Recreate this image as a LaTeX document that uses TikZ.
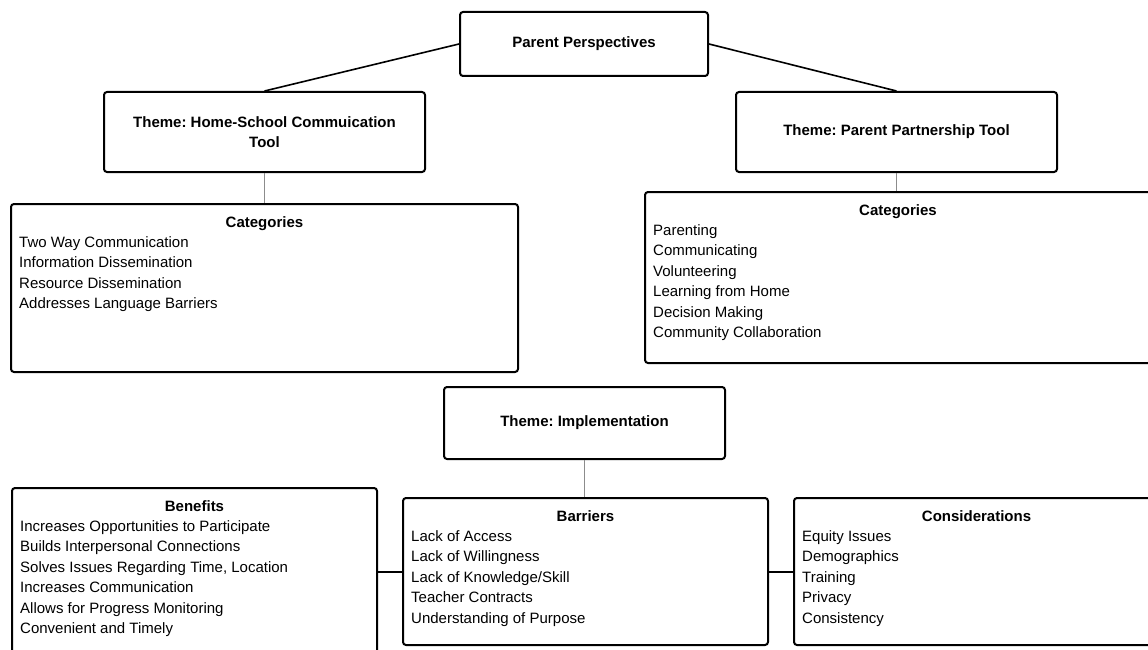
\documentclass[tikz,border=0pt]{standalone}
\usepackage{fontspec}
\setmainfont{Liberation Sans}
\usepackage{xcolor}
\definecolor{stemgray}{RGB}{140,140,140}
\usepackage{tikz}
\usetikzlibrary{calc}
\frenchspacing
\newcommand{\diagfont}{\fontsize{15}{20.5}\selectfont}
\newcommand{\widththeme}{321pt}
\newcommand{\widthlist}{365pt}
\newcommand{\heightlist}{147pt}
\tikzset{
    common/.style={draw, rectangle, rounded corners=3pt, line width=2pt},
    theme/.style={common, font=\diagfont\bfseries, align=center, minimum width=\widththeme, minimum height=80pt},
    listbox/.style={common, anchor=north west, minimum width=\widthlist, minimum height=\heightlist},
    listhead/.style={anchor=base, inner sep=0pt, font=\diagfont\bfseries},
    listtext/.style={anchor=north west, inner sep=0pt, align=left},
    link/.style={line width=1.6pt},
    stem/.style={stemgray, line width=1.3pt}
}

\begin{document}
\begin{tikzpicture}[x=1pt, y=-1pt, font=\diagfont]
  \useasboundingbox (0,0) rectangle (1148,650);

  \node[common, font=\diagfont\bfseries, minimum width=248pt, minimum height=64pt] (parent) at (584,44) {Parent Perspectives};
  \node[theme] (theme-hs) at (264.5,132) {Theme: Home-School Commuication\\Tool};
  \node[theme] (theme-pp) at (896.5,132) {Theme: Parent Partnership Tool};
  \node[theme, minimum width=281pt, minimum height=72pt] (theme-impl) at (584.5,423) {Theme: Implementation};

  % categories
  \node[listbox, minimum width=507pt, minimum height=168pt] (cat-hs) at (10,203) {};
  \node[listhead] (cat-hs-head) at ([yshift=-24pt]cat-hs.north) {Categories};
  \node[listtext] (cat-hs-items) at ([xshift=9pt, yshift=-33pt]cat-hs.north west)
    {Two Way Communication\\Information Dissemination\\Resource Dissemination\\Addresses Language Barriers};

  \node[listbox, minimum width=506pt, minimum height=171pt] (cat-pp) at (644,191) {};
  \node[listhead] (cat-pp-head) at ([yshift=-24pt]cat-pp.north) {Categories};
  \node[listtext] (cat-pp-items) at ([xshift=9pt, yshift=-33pt]cat-pp.north west)
    {Parenting\\Communicating\\Volunteering\\Learning from Home\\Decision Making\\Community Collaboration};

  % implementation
  \node[listbox, minimum height=200pt] (benefits) at (11,487) {};
  \node[listhead] (benefits-head) at ([yshift=-24pt]benefits.north) {Benefits};
  \node[listtext] (benefits-items) at ([xshift=9pt, yshift=-33pt]benefits.north west)
    {Increases Opportunities to Participate\\Builds Interpersonal Connections\\Solves Issues Regarding Time, Location\\Increases Communication\\Allows for Progress Monitoring\\Convenient and Timely};

  \node[listbox] (barriers) at (402,497) {};
  \node[listhead] (barriers-head) at ([yshift=-24pt]barriers.north) {Barriers};
  \node[listtext] (barriers-items) at ([xshift=9pt, yshift=-33pt]barriers.north west)
    {Lack of Access\\Lack of Willingness\\Lack of Knowledge/Skill\\Teacher Contracts\\Understanding of Purpose};

  \node[listbox] (considerations) at (793,497) {};
  \node[listhead] (considerations-head) at ([yshift=-24pt]considerations.north) {Considerations};
  \node[listtext] (considerations-items) at ([xshift=9pt, yshift=-33pt]considerations.north west)
    {Equity Issues\\Demographics\\Training\\Privacy\\Consistency};

  \draw[link] (parent.west) -- (theme-hs.north);
  \draw[link] (parent.east) -- (theme-pp.north);
  \draw[stem] (theme-hs.south) -- (theme-hs.south |- cat-hs.north);
  \draw[stem] (theme-pp.south) -- (theme-pp.south |- cat-pp.north);
  \draw[stem] (theme-impl.south) -- (theme-impl.south |- barriers.north);
  \draw[link, line width=2pt] (barriers.west) -- (barriers.west -| benefits.east);
  \draw[link, line width=2pt] (barriers.east) -- (considerations.west);
\end{tikzpicture}
\end{document}
